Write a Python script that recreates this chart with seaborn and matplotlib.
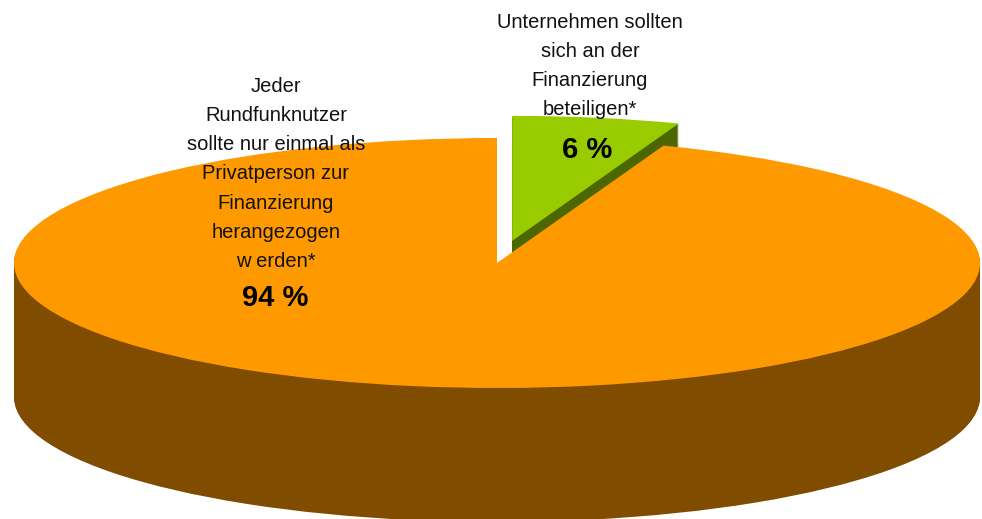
import numpy as np
import matplotlib
matplotlib.use("Agg")
import matplotlib.pyplot as plt
import seaborn as sns

# ---- data ----
categories = [
    "Unternehmen sollten\nsich an der\nFinanzierung\nbeteiligen*",
    "Jeder\nRundfunknutzer\nsollte nur einmal als\nPrivatperson zur\nFinanzierung\nherangezogen\nw erden*",
]
shares = [5.6, 94.4]
pct_labels = ["6 %", "94 %"]
top_colors = ["#99CC00", "#FF9900"]
side_colors = ["#4C6600", "#7F4C00"]
explode = [0.18, 0.0]

sns.set_theme(style="white")
plt.rcParams["font.family"] = ["Liberation Sans", "DejaVu Sans"]

W, H = 982, 519
fig = plt.figure(figsize=(W / 100, H / 100), dpi=100)
ax = fig.add_axes([0, 0, 1, 1])

# pixel geometry of the ellipse (centre, radii, depth)
cx_px, cy_px, a_px, b_px, depth_px = 497, 263, 483, 125, 134
depth = depth_px / b_px
n_layers = 135
offsets = np.linspace(depth, 0, n_layers)

for idx in range(len(shares)):
    for k, d in enumerate(offsets):
        is_top = k == n_layers - 1
        cols = [top_colors[i] if is_top else side_colors[i] for i in range(len(shares))]
        wedges, _ = ax.pie(shares, startangle=90, counterclock=False, explode=explode,
                           colors=cols, center=(0, -d), radius=1,
                           wedgeprops=dict(linewidth=0, antialiased=True), frame=False)
        for j, w in enumerate(wedges):
            if j != idx:
                w.remove()

ax.set_aspect("auto")
ax.set_xlim(-cx_px / a_px, (W - cx_px) / a_px)
ax.set_ylim(-(H - cy_px) / b_px, cy_px / b_px)
ax.axis("off")

def ftxt(x, y, s, **kw):
    fig.text(x / W, 1 - y / H, s, ha="center", va="center", multialignment="center", **kw)

ftxt(590, 66, categories[0], fontsize=14.5, linespacing=1.68, color="#111111")
ftxt(276, 174, categories[1], fontsize=14.5, linespacing=1.68, color="#111111")
ftxt(587, 150, pct_labels[0], fontsize=21, fontweight="bold", color="black")
ftxt(275, 298, pct_labels[1], fontsize=21, fontweight="bold", color="black")

fig.savefig("out.png", dpi=100, facecolor="white")
